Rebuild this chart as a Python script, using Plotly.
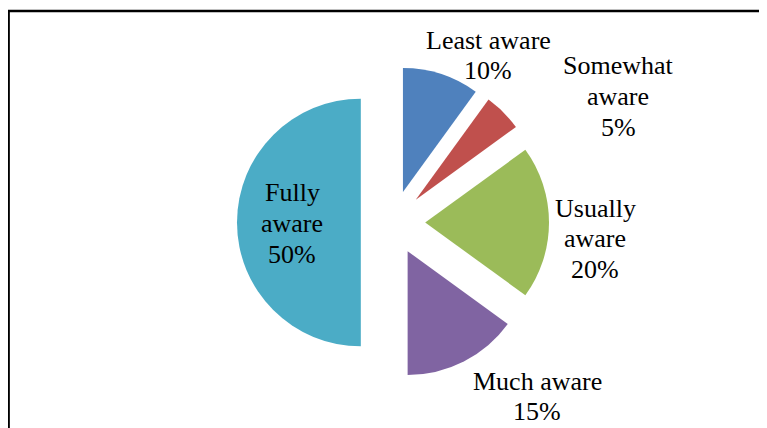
import plotly.graph_objects as go

labels = ["Least aware", "Somewhat aware", "Usually aware", "Much aware", "Fully aware"]
values = [10, 5, 20, 15, 50]
colors = ["#4F81BD", "#C0504D", "#9BBB59", "#8064A2", "#4BACC6"]
label_lines = [["Least aware"], ["Somewhat", "aware"], ["Usually", "aware"], ["Much aware"], ["Fully", "aware"]]

W, H = 767, 428
OFF = 8  # page body margin offset
cx, cy = 393 - OFF, 222.5 - OFF
R = 156  # radius including pull
pull = 0.26

fig = go.Figure(go.Pie(
    labels=labels, values=values, sort=False, direction="clockwise", rotation=0,
    marker=dict(colors=colors, line=dict(width=0)),
    pull=[pull] * len(values), textinfo="none", hoverinfo="label+percent",
    showlegend=False,
    domain=dict(x=[(cx - 190) / W, (cx + 190) / W], y=[1 - (cy + R) / H, 1 - (cy - R) / H]),
))

# label line positions: centre x and y of first line (pixels in reference)
label_pos = [(488, 40), (618, 66), (595, 208), (537, 381), (292, 193)]
line_gap = 30.5
total = sum(values)
for lines, v, (px, py) in zip(label_lines, values, label_pos):
    all_lines = lines + [f"{round(100 * v / total)}%"]
    for i, ln in enumerate(all_lines):
        yy = py + i * line_gap - OFF
        fig.add_annotation(x=(px - OFF) / W, y=1 - yy / H, xref="paper", yref="paper", text=ln,
                           showarrow=False, xanchor="center", yanchor="middle",
                           font=dict(family="Liberation Serif", size=26, color="black"))

fig.add_shape(type="rect", xref="paper", yref="paper",
              x0=0.6 / W, x1=1.05, y0=-0.05, y1=1 - 3 / H,
              line=dict(color="black", width=2.5))

fig.update_layout(width=W, height=H, margin=dict(l=0, r=0, t=0, b=0),
                  paper_bgcolor="white", plot_bgcolor="white")
fig.write_html("out.html")
